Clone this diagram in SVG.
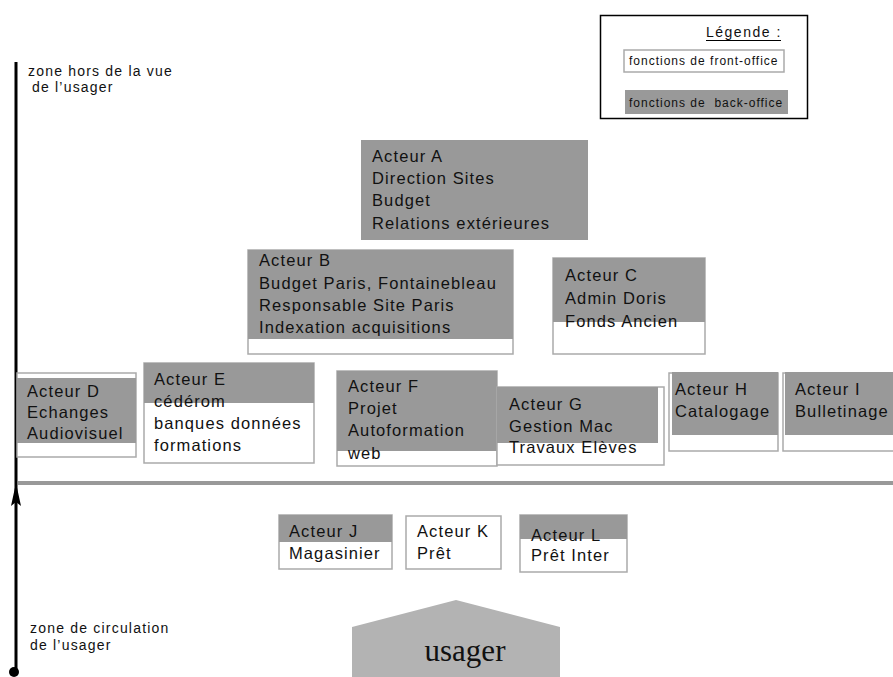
<svg xmlns="http://www.w3.org/2000/svg" width="893" height="677" viewBox="0 0 893 677">
<style>
.t{font-family:"Liberation Sans",Arial,sans-serif;font-size:16.5px;letter-spacing:1.1px;fill:#111}
.s{font-family:"Liberation Sans",Arial,sans-serif;font-size:14px;letter-spacing:1.2px;fill:#111}
.lg{font-family:"Liberation Sans",Arial,sans-serif;font-size:12px;letter-spacing:1px;fill:#111}
.g{fill:#999999;stroke:none}
.w{fill:#ffffff;stroke:#aaaaaa;stroke-width:1.5}
</style>
<rect width="893" height="677" fill="#fff"/>

<g id="axis">
<line x1="16" y1="62" x2="16" y2="672" stroke="#000" stroke-width="3"/>
<path d="M16,483 L21,506 L16,502 L11,506 Z" fill="#000"/>
<circle cx="14" cy="672" r="5" fill="#000"/>
<text class="s"><tspan x="28" y="76">zone hors de la vue</tspan><tspan x="32" y="92">de l’usager</tspan></text>
<text class="s"><tspan x="30" y="633">zone de circulation</tspan><tspan x="30" y="650">de l’usager</tspan></text>
</g>

<g id="separator">
<line x1="18" y1="483" x2="893" y2="483" stroke="#999" stroke-width="4"/>
</g>

<g id="legend">
<rect x="600.5" y="15.5" width="207" height="103" fill="#fff" stroke="#000" stroke-width="1.5"/>
<text class="lg" x="706" y="37" style="font-size:14px;letter-spacing:1.5px">Légende :</text>
<line x1="706" y1="40.5" x2="781" y2="40.5" stroke="#000" stroke-width="1"/>
<rect class="w" x="624" y="50" width="160" height="22"/>
<text class="lg" x="629" y="65">fonctions de front-office</text>
<rect class="g" x="625" y="90" width="163" height="24"/>
<text class="lg" x="629" y="107" xml:space="preserve">fonctions de  back-office</text>
</g>

<g id="acteurA">
<rect class="g" x="361" y="140" width="227" height="100"/>
<text class="t"><tspan x="372" y="162">Acteur A</tspan><tspan x="372" y="184">Direction Sites</tspan><tspan x="372" y="206">Budget</tspan><tspan x="372" y="229">Relations extérieures</tspan></text>
</g>

<g id="acteurB">
<rect class="w" x="248" y="250" width="265" height="104"/>
<rect class="g" x="248" y="250" width="265" height="89"/>
<text class="t"><tspan x="259" y="266">Acteur B</tspan><tspan x="259" y="289">Budget Paris, Fontainebleau</tspan><tspan x="259" y="311">Responsable Site Paris</tspan><tspan x="259" y="333">Indexation acquisitions</tspan></text>
</g>

<g id="acteurC">
<rect class="w" x="553" y="258" width="152" height="96"/>
<rect class="g" x="553" y="258" width="152" height="64"/>
<text class="t"><tspan x="565" y="281">Acteur C</tspan><tspan x="565" y="304">Admin Doris</tspan><tspan x="565" y="327">Fonds Ancien</tspan></text>
</g>

<g id="acteurD">
<rect class="w" x="17" y="373" width="119" height="84"/>
<rect class="g" x="17" y="378" width="119" height="65"/>
<text class="t"><tspan x="27" y="397">Acteur D</tspan><tspan x="27" y="418">Echanges</tspan><tspan x="27" y="439">Audiovisuel</tspan></text>
</g>

<g id="acteurE">
<rect class="w" x="144" y="363" width="170" height="100"/>
<rect class="g" x="144" y="363" width="170" height="40"/>
<text class="t"><tspan x="154" y="385">Acteur E</tspan><tspan x="154" y="407">cédérom</tspan><tspan x="154" y="429">banques données</tspan><tspan x="154" y="451">formations</tspan></text>
</g>

<g id="acteurF">
<rect class="w" x="337" y="371" width="160" height="95"/>
<rect class="g" x="337" y="371" width="160" height="80"/>
<text class="t"><tspan x="348" y="392">Acteur F</tspan><tspan x="348" y="414">Projet</tspan><tspan x="348" y="436">Autoformation</tspan><tspan x="348" y="459">web</tspan></text>
</g>

<g id="acteurG">
<rect class="w" x="497" y="387" width="167" height="78"/>
<rect class="g" x="497" y="387" width="161" height="56"/>
<text class="t"><tspan x="509" y="410">Acteur G</tspan><tspan x="509" y="432">Gestion Mac</tspan><tspan x="509" y="453">Travaux Elèves</tspan></text>
</g>

<g id="acteurH">
<rect class="w" x="669" y="373" width="109" height="78"/>
<rect class="g" x="672" y="372" width="106" height="63"/>
<text class="t"><tspan x="675" y="395">Acteur H</tspan><tspan x="675" y="417">Catalogage</tspan></text>
</g>

<g id="acteurI">
<rect class="w" x="783" y="373" width="112" height="78"/>
<rect class="g" x="785" y="372" width="108" height="63"/>
<text class="t"><tspan x="795" y="395">Acteur I</tspan><tspan x="795" y="417">Bulletinage</tspan></text>
</g>

<g id="acteurJ">
<rect class="w" x="279" y="515" width="113" height="54"/>
<rect class="g" x="279" y="515" width="113" height="27"/>
<text class="t"><tspan x="289" y="537">Acteur J</tspan><tspan x="289" y="559">Magasinier</tspan></text>
</g>

<g id="acteurK">
<rect class="w" x="406" y="516" width="95" height="53"/>
<text class="t"><tspan x="417" y="537">Acteur K</tspan><tspan x="417" y="559">Prêt</tspan></text>
</g>

<g id="acteurL">
<rect class="w" x="520" y="515" width="107" height="57"/>
<rect class="g" x="520" y="515" width="107" height="24"/>
<text class="t"><tspan x="531" y="541">Acteur L</tspan><tspan x="531" y="561">Prêt Inter</tspan></text>
</g>

<g id="usager">
<polygon points="352,627 456,600 560,627 560,677 352,677" fill="#b3b3b3"/>
<text x="465" y="661" text-anchor="middle" style="font-family:'Liberation Serif','Times New Roman',serif;font-size:31px;fill:#111">usager</text>
</g>

<g id="connectors"></g>
</svg>
